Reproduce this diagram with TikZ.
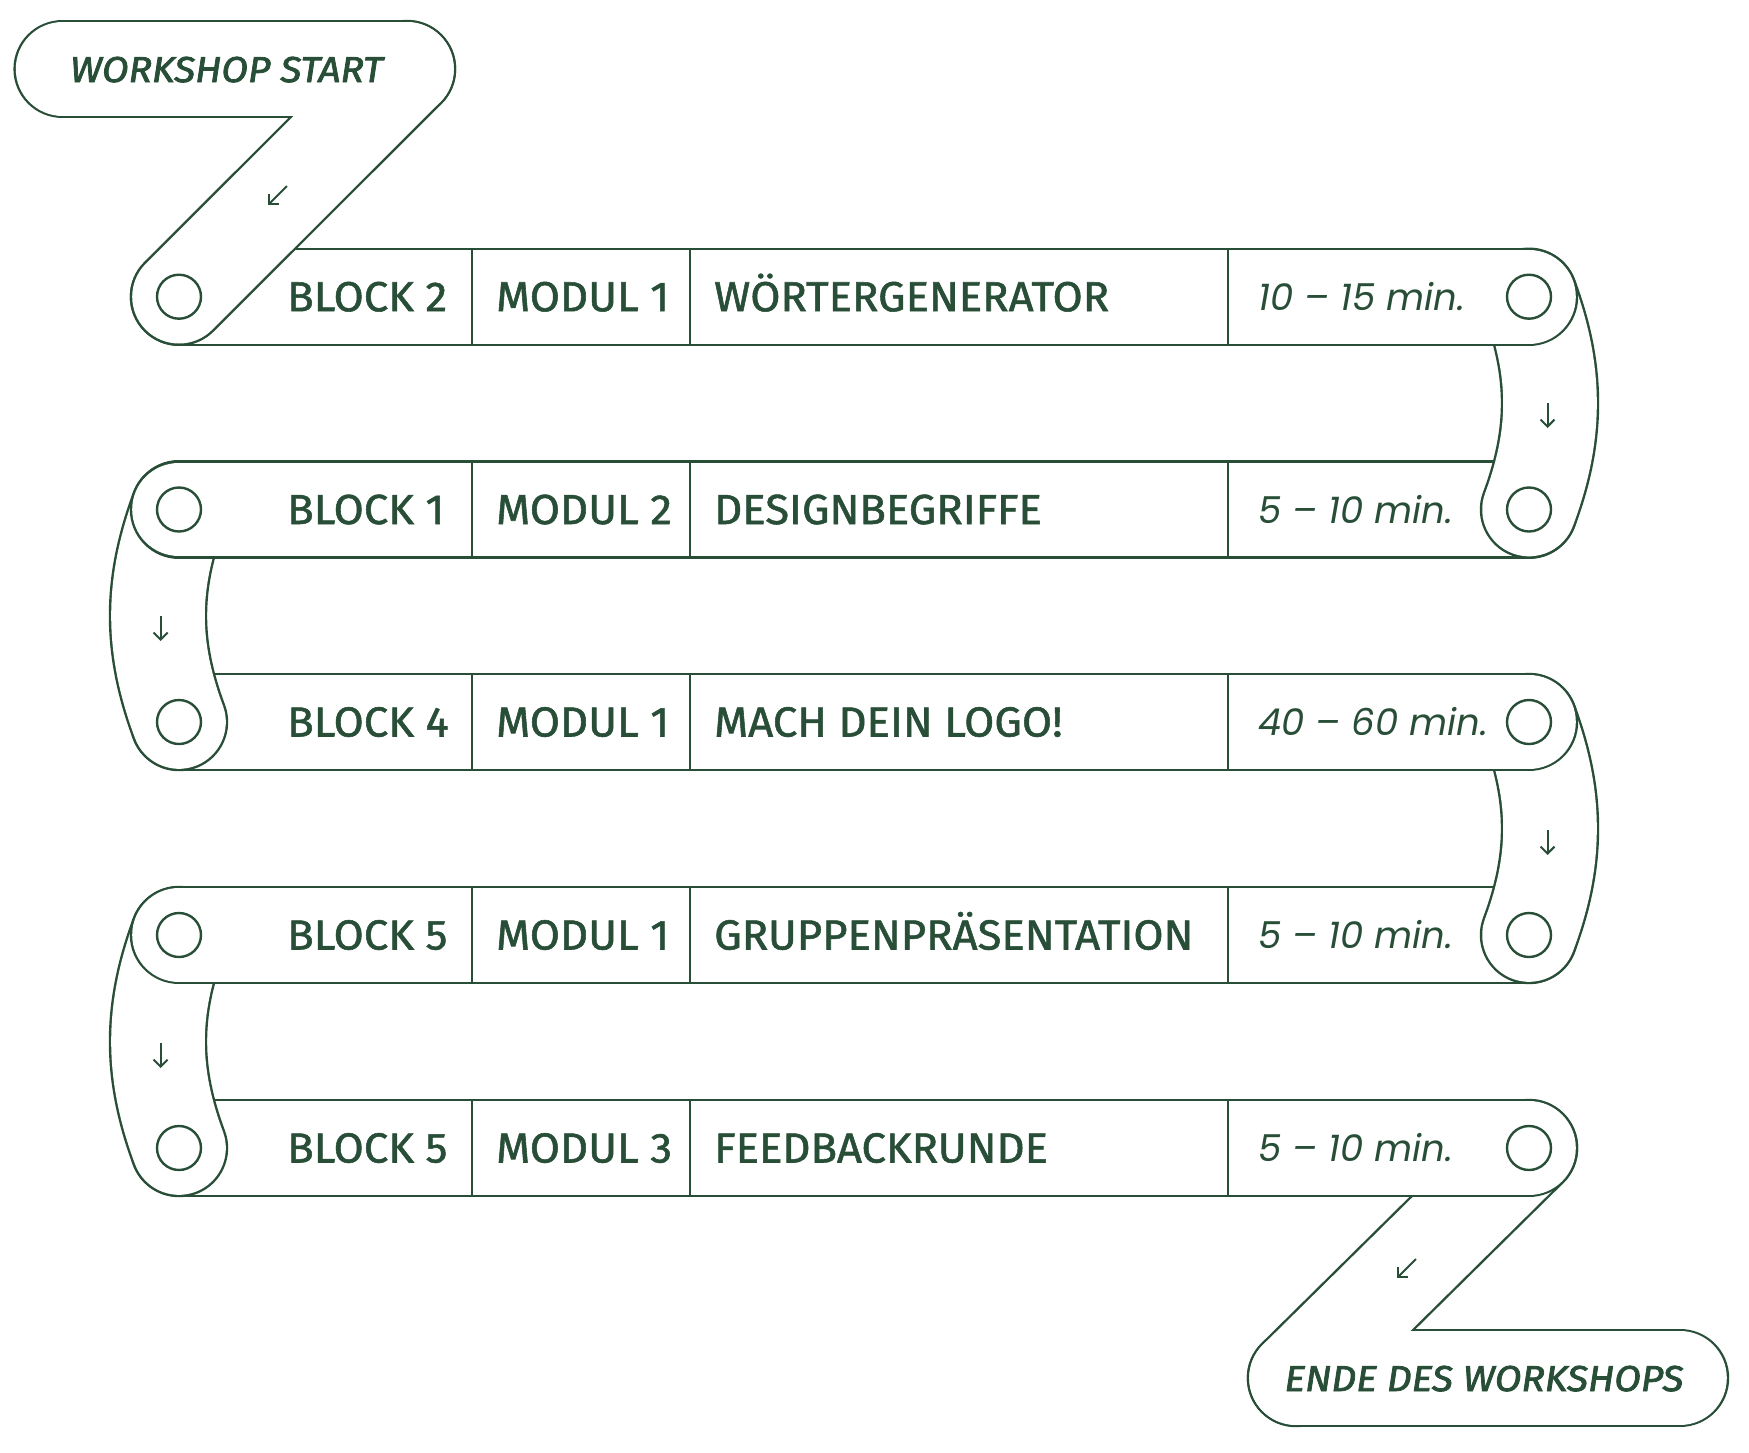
\documentclass[tikz,border=0pt]{standalone}
\usepackage{fontspec}
\usetikzlibrary{calc,arrows.meta}
\newfontfamily\rowfont{Fira Sans}[FakeStretch=1.04,FakeBold=1.3]
\newfontfamily\timefont{Poppins}
\newfontfamily\capfont{Fira Sans}[FakeStretch=1.08,FakeBold=2.2]
\definecolor{ink}{RGB}{40,78,56}
\tikzset{
  bandout/.style={draw=ink, line width=98.4pt, line cap=round},
  bandin/.style={draw=white, line width=93.6pt, line cap=round},
  hole/.style={circle, draw=ink, line width=2.4pt, minimum size=44pt, inner sep=0pt},
  divider/.style={draw=ink, line width=2.4pt},
  rowtext/.style={anchor=base west, inner sep=0pt, text=ink, font=\rowfont\fontsize{42}{42}\selectfont},
  timetext/.style={anchor=base west, inner sep=0pt, text=ink, font=\timefont\itshape\fontsize{37}{37}\selectfont},
  captext/.style={anchor=base, inner sep=0pt, text=ink, font=\capfont\itshape\fontsize{36}{36}\selectfont},
  flowarrow/.style={draw=ink, line width=2pt, -{Straight Barb[length=7pt,width=14pt,line width=2pt]}},
}
\begin{document}
\begin{tikzpicture}[x=1pt,y=-1pt]
\useasboundingbox (0,0) rectangle (1749,1452);
% centres of the round ends
\coordinate (S1) at (62.6,69);
\coordinate (S2) at (407,69);
\coordinate (E1) at (1296,1378);
\coordinate (E2) at (1680,1378);
\foreach \k/\y in {1/296.7,2/509.5,3/722,4/935,5/1148}{
  \coordinate (L\k) at (179,\y);
  \coordinate (R\k) at (1529,\y);
}
% end pill and its link (union)
\draw[bandout] (E1) -- (E2);
\draw[bandout] (R5) -- (E1);
\draw[bandin] (E1) -- (E2);
\draw[bandin] (R5) -- (E1);
% row 5
\draw[bandout] (L5) -- (R5); \draw[bandin] (L5) -- (R5);
% link L4-L5
\draw[bandout] (L4) .. controls ($(L4)+(-28,75)$) and ($(L5)+(-28,-75)$) .. (L5);
\draw[bandin] (L4) .. controls ($(L4)+(-28,75)$) and ($(L5)+(-28,-75)$) .. (L5);
% row 4
\draw[bandout] (L4) -- (R4); \draw[bandin] (L4) -- (R4);
% link R3-R4
\draw[bandout] (R3) .. controls ($(R3)+(28,75)$) and ($(R4)+(28,-75)$) .. (R4);
\draw[bandin] (R3) .. controls ($(R3)+(28,75)$) and ($(R4)+(28,-75)$) .. (R4);
% row 3
\draw[bandout] (L3) -- (R3); \draw[bandin] (L3) -- (R3);
% link L2-L3
\draw[bandout] (L2) .. controls ($(L2)+(-28,75)$) and ($(L3)+(-28,-75)$) .. (L3);
\draw[bandin] (L2) .. controls ($(L2)+(-28,75)$) and ($(L3)+(-28,-75)$) .. (L3);
% row 2
\draw[bandout] (L2) -- (R2); \draw[bandin] (L2) -- (R2);
% link R1-R2
\draw[bandout] (R1) .. controls ($(R1)+(28,75)$) and ($(R2)+(28,-75)$) .. (R2);
\draw[bandin] (R1) .. controls ($(R1)+(28,75)$) and ($(R2)+(28,-75)$) .. (R2);
% row 1
\draw[bandout] (L1) -- (R1); \draw[bandin] (L1) -- (R1);
% start pill and its link (union)
\draw[bandout] (S1) -- (S2);
\draw[bandout] (S2) -- (L1);
\draw[bandin] (S1) -- (S2);
\draw[bandin] (S2) -- (L1);
% dividers and holes
\foreach \k in {1,...,5}{
  \foreach \x in {472,690,1228}{
    \draw[divider] ($(L\k)+(\x-179,-48)$) -- ($(L\k)+(\x-179,48)$);
  }
  \node[hole] (hL\k) at (L\k) {};
  \node[hole] (hR\k) at (R\k) {};
}
% texts
\node[captext] (start) at (226.5,82) {WORKSHOP START};
\node[captext] (ende) at (1484,1391) {ENDE DES WORKSHOPS};
\foreach \k/\b/\m/\t/\d in {
  1/BLOCK 2/MODUL 1/WÖRTERGENERATOR/10 – 15 min.,
  2/BLOCK 1/MODUL 2/DESIGNBEGRIFFE/5 – 10 min.,
  3/BLOCK 4/MODUL 1/MACH DEIN LOGO!/40 – 60 min.,
  4/BLOCK 5/MODUL 1/GRUPPENPRÄSENTATION/5 – 10 min.,
  5/BLOCK 5/MODUL 3/FEEDBACKRUNDE/5 – 10 min.}{
  \node[rowtext] (blk\k) at ($(L\k)+(108,14.5)$) {\b};
  \node[rowtext] (mod\k) at ($(L\k)+(317,14.5)$) {\m};
  \node[rowtext] (tit\k) at ($(L\k)+(535,14.5)$) {\t};
  \node[timetext] (dur\k) at ($(L\k)+(1079,13.5)$) {\d};
}
% direction arrows
\coordinate (a1s) at (287,186); \coordinate (a1e) at (268,205);
\coordinate (a2s) at (1547.5,403); \coordinate (a2e) at (1547.5,428);
\coordinate (a3s) at (160.6,616); \coordinate (a3e) at (160.6,641);
\coordinate (a4s) at (1547.5,830); \coordinate (a4e) at (1547.5,855);
\coordinate (a5s) at (160.6,1043); \coordinate (a5e) at (160.6,1068);
\coordinate (a6s) at (1416,1259); \coordinate (a6e) at (1397,1278);
\foreach \i in {1,...,6}{\draw[flowarrow] (a\i s) -- (a\i e);}
\end{tikzpicture}
\end{document}
